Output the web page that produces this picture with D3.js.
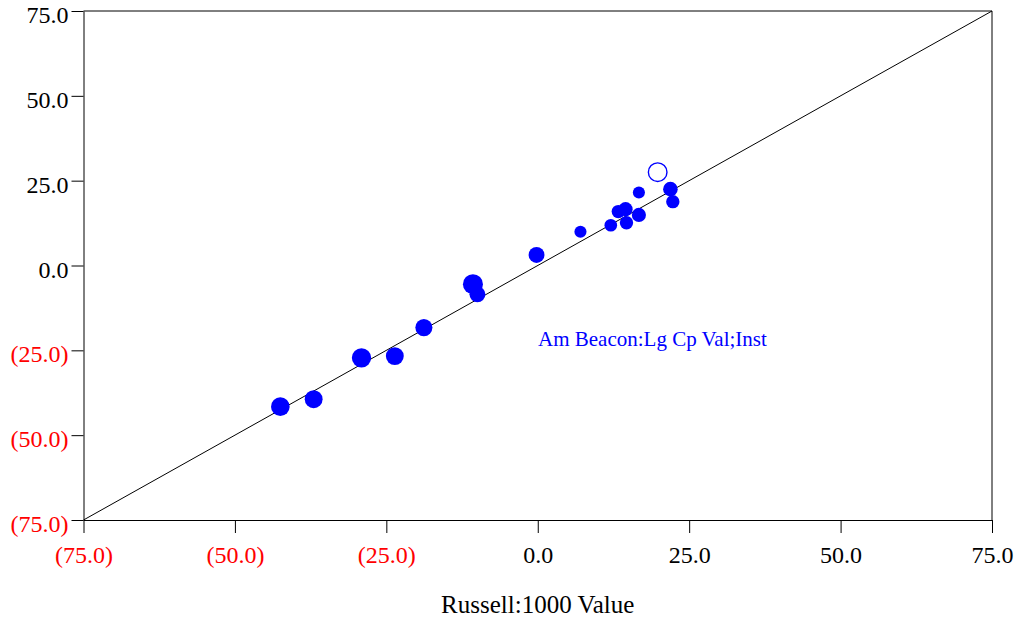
<!DOCTYPE html>
<html><head><meta charset="utf-8">
<script src="https://cdn.jsdelivr.net/npm/d3@7"></script>
<style>body{margin:0;background:#fff}svg{display:block}text{font-family:"Liberation Serif","Times New Roman",serif}</style>
</head><body><svg id="c" width="1021" height="621"></svg>
<script>
const xTicks = [-75, -50, -25, 0, 25, 50, 75];
const yTicks = [-75, -50, -25, 0, 25, 50, 75];
const xVals = [7.05, 12.06, 13.3, 14.5, 14.65, 16.7, 16.7, 21.9, 22.3, -0.2, -10.7, -9.96, -18.8, -23.6, -29.1, -37.0, -42.5];
const yVals = [9.96, 11.85, 15.9, 16.6, 12.6, 14.9, 21.5, 22.5, 18.8, 3.1, -5.5, -8.5, -18.3, -26.7, -27.2, -39.4, -41.6];
const weights = [33, 36, 40, 45, 40, 45, 33, 48, 40, 57, 90, 57, 66, 72, 84, 72, 78];
const benchmark = {x: 19.8, y: 27.5, w: 90};
const fundLabel = "Am Beacon:Lg Cp Val;Inst";
const xTitle = "Russell:1000 Value";

const svg = d3.select("#c");
const L = 83.5, R = 992, T = 11, B = 520;
const x = d3.scaleLinear().domain([-75, 75]).range([L, R]);
const y = d3.scaleLinear().domain([-75, 75]).range([B, T]);
const r = d3.scaleSqrt().domain([0, 90]).range([0, 10]);
const fmt = v => v < 0 ? "(" + Math.abs(v).toFixed(1) + ")" : v.toFixed(1);
const col = v => v < 0 ? "#ff0000" : "#000";

// frame
svg.append("line").attr("x1", L).attr("x2", R).attr("y1", T).attr("y2", T).attr("stroke", "#000");
svg.append("line").attr("x1", R).attr("x2", R).attr("y1", T).attr("y2", B).attr("stroke", "#000");

const gx = svg.append("g").attr("transform", `translate(0,${B})`)
  .call(d3.axisBottom(x).tickValues(xTicks).tickFormat(fmt).tickSize(13).tickSizeOuter(0));
gx.select(".domain").attr("stroke", "#000");
gx.selectAll(".tick line").attr("stroke", "#000");
gx.selectAll(".tick text").attr("font-size", 24).attr("dy", "1.125em")
  .attr("fill", d => col(d));

const gy = svg.append("g").attr("transform", `translate(${L},0)`)
  .call(d3.axisLeft(y).tickValues(yTicks).tickFormat(fmt).tickSize(12).tickSizeOuter(0));
gy.select(".domain").attr("stroke", "#000");
gy.selectAll(".tick line").attr("stroke", "#000");
gy.selectAll(".tick text").attr("font-size", 24).attr("x", -15).attr("dy", "0.48em")
  .attr("fill", d => col(d));

// diagonal
svg.append("line").attr("x1", x(-75)).attr("y1", y(-75)).attr("x2", x(75)).attr("y2", y(75))
  .attr("stroke", "#000").attr("stroke-width", 1);

// points
svg.append("g").selectAll("circle").data(xVals.map((v, i) => ({x: v, y: yVals[i], w: weights[i]})))
  .join("circle").attr("cx", d => x(d.x)).attr("cy", d => y(d.y)).attr("r", d => r(d.w))
  .attr("fill", "#0000ff");

svg.append("circle").attr("cx", x(benchmark.x)).attr("cy", y(benchmark.y)).attr("r", r(benchmark.w) - 0.7)
  .attr("fill", "#fff").attr("stroke", "#0000ff").attr("stroke-width", 1.4);

svg.append("text").attr("x", 538).attr("y", 346).attr("font-size", 21).attr("fill", "#0000ff").text(fundLabel);
svg.append("text").attr("x", x(0)).attr("y", 613).attr("text-anchor", "middle").attr("font-size", 25).attr("fill", "#000").text(xTitle);
</script></body></html>
